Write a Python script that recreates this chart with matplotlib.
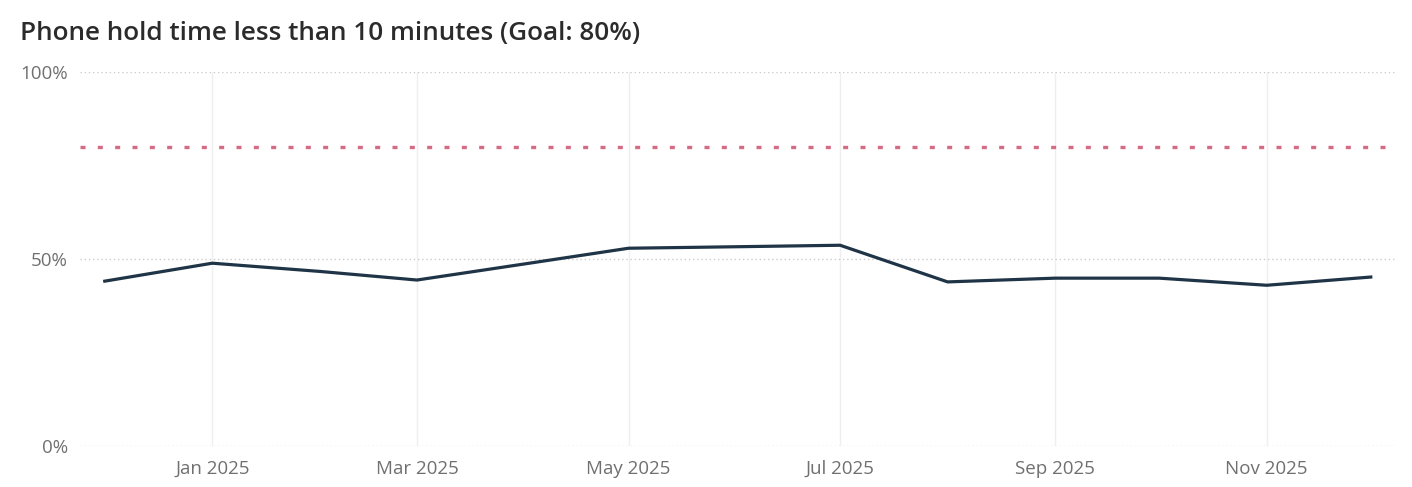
import datetime as dt
import matplotlib.pyplot as plt
from matplotlib.ticker import FuncFormatter

# monthly share of calls held under 10 minutes
months = [dt.date(2024, 12, 1)] + [dt.date(2025, m, 1) for m in range(1, 13)]
pct_under_10 = [44.1, 48.9, 46.7, 44.4, 48.7, 52.9, 53.3, 53.7, 43.9, 44.9, 44.9, 43.0, 45.2]
goal = 80

tick_dates = [dt.date(2025, m, 1) for m in (1, 3, 5, 7, 9, 11)]
tick_labels = ["Jan 2025", "Mar 2025", "May 2025", "Jul 2025", "Sep 2025", "Nov 2025"]

plt.rcParams['font.family'] = ['Open Sans', 'DejaVu Sans']

fig = plt.figure(figsize=(14.12, 4.87), dpi=100)
ax = fig.add_axes([0.057, 0.084, 0.931, 0.768])

ax.plot(months, pct_under_10, color='#1F3446', linewidth=2.3, solid_joinstyle='round',
        clip_on=False, zorder=3)
ax.axhline(goal, color='#D46A84', linewidth=2.4, linestyle=(0, (1.5, 3.7)), zorder=2)

ax.set_ylim(0, 100)
ax.set_xlim(dt.date(2024, 11, 24), dt.date(2025, 12, 8))
ax.set_yticks([0, 50, 100])
ax.yaxis.set_major_formatter(FuncFormatter(lambda v, p: f"{v:.0f}%"))
ax.set_xticks(tick_dates)
ax.set_xticklabels(tick_labels)

ax.grid(axis='y', color='#CCCCCC', linestyle=(0, (1, 2)), linewidth=1)
ax.grid(axis='x', color='#EFEFEF', linestyle='-', linewidth=1)
ax.set_axisbelow(True)
for s in ax.spines.values():
    s.set_visible(False)
ax.tick_params(length=0, colors='#707070', labelsize=13.5)
ax.tick_params(axis='y', pad=9)
ax.tick_params(axis='x', pad=10)

fig.text(0.014, 0.932, "Phone hold time less than 10 minutes (Goal: 80%)",
         fontsize=18.8, fontweight='semibold', color='#2B2B2B', va='center', ha='left')

fig.savefig("out.png", dpi=100)
